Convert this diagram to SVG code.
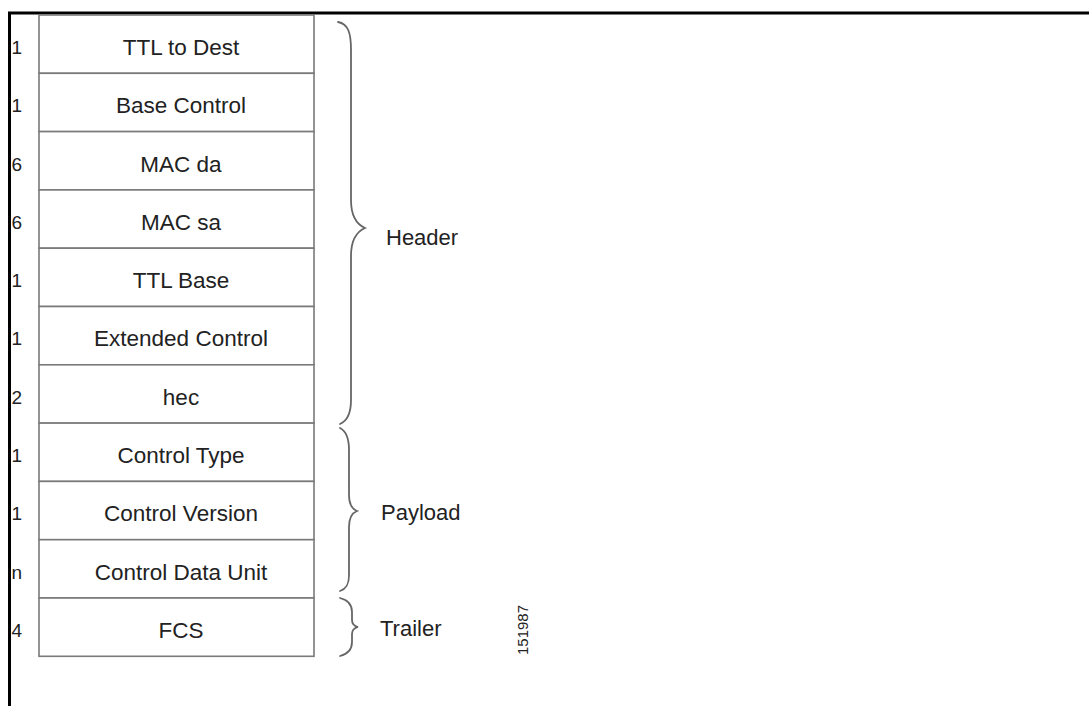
<svg xmlns="http://www.w3.org/2000/svg" width="1089" height="706" viewBox="0 0 1089 706">
<style>
.cell{fill:#fff;stroke:#7a7a7a;stroke-width:1.6}
.lbl{font-family:"Liberation Sans",Arial,sans-serif;font-size:22.5px;fill:#222;text-anchor:middle}
.num{font-family:"Liberation Sans",Arial,sans-serif;font-size:19px;fill:#222}
.side{font-family:"Liberation Sans",Arial,sans-serif;font-size:22px;fill:#222}
.brace{fill:none;stroke:#666;stroke-width:1.8;stroke-linecap:round}
.frame{stroke:#000;stroke-width:3;fill:none}
</style>
<rect width="1089" height="706" fill="#fff"/>
<g id="frame">
<line class="frame" x1="8" y1="13" x2="1089" y2="13"/>
<line class="frame" x1="9.5" y1="12" x2="9.5" y2="706"/>
</g>
<g id="row1"><rect class="cell" x="39" y="15" width="275" height="58.3"/><text class="num" x="11.5" y="54">1</text><text class="lbl" x="181" y="55">TTL to Dest</text></g>
<g id="row2"><rect class="cell" x="39" y="73.3" width="275" height="58.3"/><text class="num" x="11.5" y="112">1</text><text class="lbl" x="181" y="113">Base Control</text></g>
<g id="row3"><rect class="cell" x="39" y="131.6" width="275" height="58.3"/><text class="num" x="11.5" y="171">6</text><text class="lbl" x="181" y="172">MAC da</text></g>
<g id="row4"><rect class="cell" x="39" y="189.9" width="275" height="58.3"/><text class="num" x="11.5" y="229">6</text><text class="lbl" x="181" y="230">MAC sa</text></g>
<g id="row5"><rect class="cell" x="39" y="248.2" width="275" height="58.3"/><text class="num" x="11.5" y="287">1</text><text class="lbl" x="181" y="288">TTL Base</text></g>
<g id="row6"><rect class="cell" x="39" y="306.5" width="275" height="58.3"/><text class="num" x="11.5" y="345">1</text><text class="lbl" x="181" y="346">Extended Control</text></g>
<g id="row7"><rect class="cell" x="39" y="364.8" width="275" height="58.3"/><text class="num" x="11.5" y="404">2</text><text class="lbl" x="181" y="405">hec</text></g>
<g id="row8"><rect class="cell" x="39" y="423.1" width="275" height="58.3"/><text class="num" x="11.5" y="462">1</text><text class="lbl" x="181" y="463">Control Type</text></g>
<g id="row9"><rect class="cell" x="39" y="481.4" width="275" height="58.3"/><text class="num" x="11.5" y="520">1</text><text class="lbl" x="181" y="521">Control Version</text></g>
<g id="row10"><rect class="cell" x="39" y="539.7" width="275" height="58.3"/><text class="num" x="11.5" y="579">n</text><text class="lbl" x="181" y="580">Control Data Unit</text></g>
<g id="row11"><rect class="cell" x="39" y="598" width="275" height="58.3"/><text class="num" x="11.5" y="637">4</text><text class="lbl" x="181" y="638">FCS</text></g>
<g id="connectors">
<path class="brace" d="M338,22 C348,24 351,32 351,50 L351,200 C351,215 356,224 365,228 C356,232 351,241 351,256 L351,400 C351,414 347,421 340,424"/>
<path class="brace" d="M340,428 C346,431 349,437 349,450 L349,495 C349,504 352,509 357,511 C352,513 349,518 349,527 L349,575 C349,585 346,589 340,591"/>
<path class="brace" d="M340,598 C348,600 352,604 352,612 L352,620 C352,624 354,626 358,627 C354,628 352,630 352,634 L352,642 C352,650 348,654 340,656"/>
</g>
<g id="labels">
<text class="side" x="386" y="245">Header</text>
<text class="side" x="381" y="520">Payload</text>
<text class="side" x="380" y="636">Trailer</text>
<text transform="translate(528,630) rotate(-90)" font-family="'Liberation Sans',Arial,sans-serif" font-size="15" fill="#222" text-anchor="middle">151987</text>
</g>
</svg>
